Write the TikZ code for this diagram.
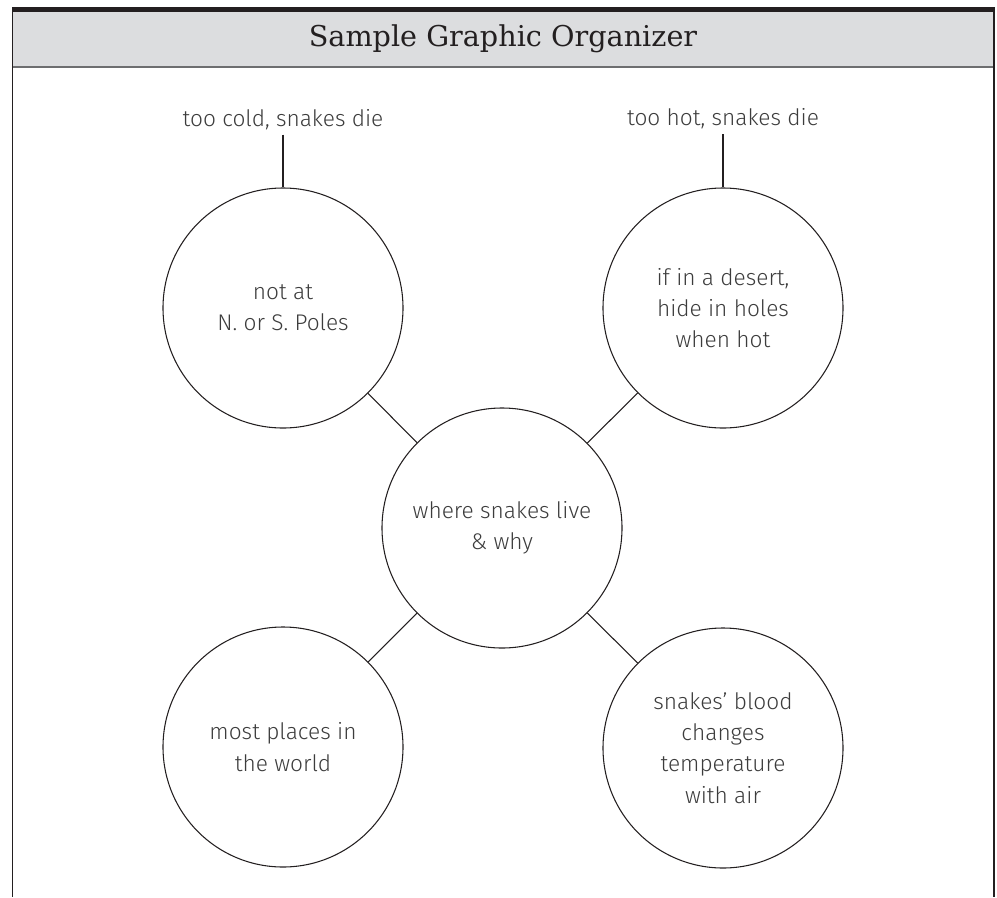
\documentclass[tikz,border=0pt]{standalone}
\usepackage{fontspec}
\newfontfamily\handfont{Fira Sans Light}
\newfontfamily\titlefont{DejaVu Serif}
\definecolor{ink}{HTML}{231F20}
\definecolor{band}{HTML}{DCDDDF}
\definecolor{rule}{HTML}{6D6E70}
\definecolor{pencil}{HTML}{3C3C3C}

\begin{document}
\begin{tikzpicture}[x=0.75pt,y=-0.75pt,
    bubble/.style={circle, draw=ink, line width=0.8pt, minimum size=180pt, inner sep=0pt, align=center, text=pencil, font=\handfont\fontsize{17}{23.5}\selectfont},
    note/.style={anchor=base, text=pencil, font=\handfont\fontsize{17}{20}\selectfont},
    link/.style={draw=ink, line width=0.8pt}]
  \useasboundingbox (0,0) rectangle (997,897);
  % header
  \fill[band] (12.5,12) rectangle (994,67);
  \fill[ink] (11.8,7) rectangle (994.8,12);
  \draw[rule, line width=1.4pt] (12.5,67) -- (994,67);
  \draw[ink, line width=1pt] (12.5,12) -- (12.5,897);
  \draw[ink, line width=1pt] (994,12) -- (994,897);
  \node[text=ink, font=\titlefont\fontsize{21.5}{24}\selectfont] (title) at (503,39) {Sample Graphic Organizer};

  % circles
  \node[bubble] (poles) at (283,308) {not at\\N. or S. Poles};
  \node[bubble] (desert) at (723,308) {if in a desert,\\hide in holes\\when hot};
  \node[bubble] (live) at (502,528) {where snakes live\\\& why};
  \node[bubble] (world) at (283,747) {most places in\\the world};
  \node[bubble] (blood) at (723,748) {snakes’ blood\\changes\\temperature\\with air};

  % notes on top
  \node[note] (cold) at (283,126) {too cold, snakes die};
  \node[note] (hot) at (723,125) {too hot, snakes die};
  \draw[link] ([yshift=-6.5pt]cold.base) -- (poles.north);
  \draw[link] ([yshift=-7pt]hot.base) -- (desert.north);

  % spokes
  \draw[link] (live) -- (poles);
  \draw[link] (live) -- (desert);
  \draw[link] (live) -- (world);
  \draw[link] (live) -- (blood);
\end{tikzpicture}
\end{document}
